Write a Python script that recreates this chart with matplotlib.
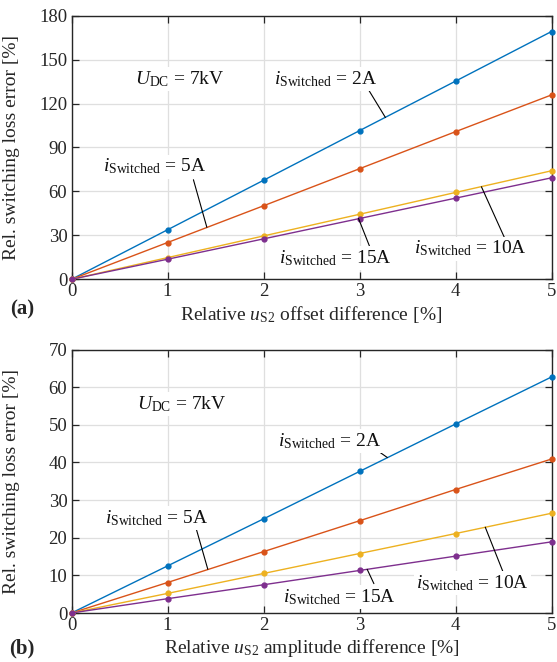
import matplotlib
matplotlib.use("Agg")
import matplotlib.pyplot as plt

plt.rcParams['font.family'] = ['Liberation Serif', 'DejaVu Serif']
plt.rcParams['mathtext.fontset'] = 'custom'
plt.rcParams['mathtext.rm'] = 'Liberation Serif'
plt.rcParams['mathtext.it'] = 'Liberation Serif:italic'
plt.rcParams['mathtext.bf'] = 'Liberation Serif:bold'

# ---------------- data ----------------
x = [0, 1, 2, 3, 4, 5]
series_names = ['2A', '5A', '10A', '15A']
colors = ['#0072BD', '#D95319', '#EDB120', '#7E2F8E']

# (a) offset difference
a_2A = [0, 33.8, 67.6, 101.5, 135.3, 169.2]
a_5A = [0, 25.1, 50.2, 75.5, 100.8, 125.9]
a_10A = [0, 14.8, 29.6, 44.4, 59.3, 74.1]
a_15A = [0, 13.7, 27.6, 41.5, 55.4, 69.3]

# (b) amplitude difference
b_2A = [0, 12.5, 25.0, 37.6, 50.2, 62.7]
b_5A = [0, 8.1, 16.3, 24.5, 32.8, 40.9]
b_10A = [0, 5.2, 10.5, 15.8, 21.1, 26.5]
b_15A = [0, 3.8, 7.5, 11.3, 15.1, 18.9]

xticks = [0, 1, 2, 3, 4, 5]
a_yticks = [0, 30, 60, 90, 120, 150, 180]
b_yticks = [0, 10, 20, 30, 40, 50, 60, 70]

ylabel = 'Rel. switching loss error [%]'
a_xlabel = r'Relative $u_\mathrm{S2}$ offset difference [%]'
b_xlabel = r'Relative $u_\mathrm{S2}$ amplitude difference [%]'
udc_text = r'$U_\mathrm{DC}$ = 7kV'

# annotations: (text, text position, pointer start, pointer end)
a_notes = [
    (r'$i_\mathrm{Switched}$ = 2A', (2.65, 137), (3.07, 132), (3.27, 110.5)),
    (r'$i_\mathrm{Switched}$ = 5A', (0.86, 77), (1.27, 68), (1.41, 35.5)),
    (r'$i_\mathrm{Switched}$ = 15A', (2.75, 14.5), (3.12, 20), (2.99, 41.5)),
    (r'$i_\mathrm{Switched}$ = 10A', (4.16, 21), (4.52, 27), (4.27, 63.2)),
]
a_udc_pos = (1.13, 137)

b_notes = [
    (r'$i_\mathrm{Switched}$ = 2A', (2.69, 45.7), (3.15, 43.8), (3.29, 41.3)),
    (r'$i_\mathrm{Switched}$ = 5A', (0.89, 25.3), (1.30, 22.3), (1.42, 11.6)),
    (r'$i_\mathrm{Switched}$ = 15A', (2.79, 4.3), (3.15, 7.8), (3.08, 11.6)),
    (r'$i_\mathrm{Switched}$ = 10A', (4.18, 7.9), (4.50, 10.6), (4.31, 22.8)),
]
b_udc_pos = (1.15, 55.5)

# ---------------- figure ----------------
W, H = 557, 662
fig = plt.figure(figsize=(W / 100, H / 100), dpi=100)

axA = fig.add_axes([71.5 / W, (H - 279.3) / H, 480 / W, 263.6 / H])
axB = fig.add_axes([71.5 / W, (H - 613) / H, 480 / W, 263.5 / H])

edge = '#262626'


def style(ax, yticks, xlabel):
    ax.set_xlim(0, 5)
    ax.set_ylim(yticks[0], yticks[-1])
    ax.set_xticks(xticks)
    ax.set_yticks(yticks)
    ax.grid(True, color='#dfdfdf', linewidth=0.9)
    ax.set_axisbelow(True)
    for s in ax.spines.values():
        s.set_color(edge)
        s.set_linewidth(1.0)
    ax.tick_params(direction='in', length=5, width=0.9, colors=edge,
                   labelsize=13.5, top=True, right=True, pad=3)
    ax.set_ylabel(ylabel, fontsize=14, color=edge)
    ax.yaxis.set_label_coords(-0.107, 0.5)
    ax.set_xlabel(xlabel, fontsize=14, color=edge)
    ax.xaxis.set_label_coords(0.5, -0.132)
    ax.xaxis.label.set_va('center')


def draw(ax, data, notes, udc_pos):
    for ys, c in zip(data, colors):
        ax.plot(x, ys, color=c, linewidth=1.0, marker='o', markersize=3.5,
                zorder=3, clip_on=False)
    ax.text(udc_pos[0], udc_pos[1], udc_text, fontsize=14, ha='center',
            va='center', color='#111111',
            bbox=dict(facecolor='white', edgecolor='none', pad=1.5), zorder=4)
    for txt, tpos, p0, p1 in notes:
        ax.annotate('', xy=p1, xytext=p0,
                    arrowprops=dict(arrowstyle='-', color='black', lw=0.8,
                                    shrinkA=0, shrinkB=0), zorder=4)
        ax.text(tpos[0], tpos[1], txt, fontsize=14, ha='center', va='center',
                color='#111111',
                bbox=dict(facecolor='white', edgecolor='none', pad=1.5),
                zorder=5)


style(axA, a_yticks, a_xlabel)
style(axB, b_yticks, b_xlabel)
draw(axA, [a_2A, a_5A, a_10A, a_15A], a_notes, a_udc_pos)
draw(axB, [b_2A, b_5A, b_10A, b_15A], b_notes, b_udc_pos)

fig.text(22 / W, (H - 309) / H, '(a)', fontsize=15, fontweight='bold',
         ha='center', va='center', color=edge)
fig.text(22 / W, (H - 648) / H, '(b)', fontsize=15, fontweight='bold',
         ha='center', va='center', color=edge)

fig.savefig('out.png', dpi=100)
